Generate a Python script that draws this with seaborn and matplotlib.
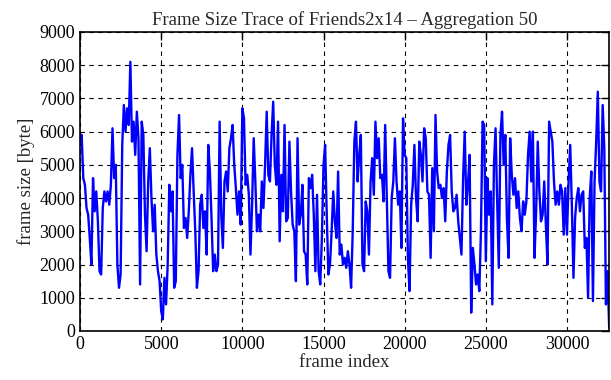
import matplotlib
matplotlib.use("Agg")
import matplotlib.pyplot as plt
import numpy as np
import pandas as pd
import seaborn as sns

# frame sizes [byte], one value every 100 frames
seg_00000 = [5600, 5900, 4600, 4400, 3700, 3500, 2800, 2000, 4600, 3600, 4200, 3300, 1800, 1700,
             3700, 4200, 3900, 4200, 3800, 4400, 6100, 4600, 5000, 2000, 1300, 1700, 5600, 6800]
seg_02800 = [6000, 6700, 6200, 8100, 5700, 6300, 5300, 6600, 5800, 1400, 6300, 5900, 3500, 2400,
             4500, 5500, 4000, 3000, 3800, 2300, 1800, 1500, 600, 350, 1600, 800, 2000]
seg_05500 = [4400, 3600, 4200, 1300, 1500, 5300, 6500, 4600, 5000, 3100, 3400, 2800, 3600, 4700,
             5500, 4200, 3000, 1300, 1800, 3800, 4100, 3100, 3600, 2300, 5600, 4800, 3400]
seg_08200 = [1800, 2300, 1800, 2000, 6300, 3500, 2500, 4500, 4800, 4200, 5500, 5800, 6200, 5000,
             4300, 3500, 4200, 3200, 6700, 6400, 4400, 4700, 4100, 2300, 3800, 5800, 4500]
seg_10900 = [3000, 3500, 3000, 4500, 3700, 5000, 6600, 4700, 4500, 5900, 6900, 5000, 4400, 6300,
             2700, 4700, 3600, 6200, 3300, 3400, 5700, 4200, 3200, 3000, 1500, 5800, 3200]
seg_13600 = [3500, 4400, 2400, 2300, 1400, 4600, 4300, 4700, 3500, 1800, 4100, 1800, 1400, 2800,
             5000, 5600, 3500, 1700, 2000, 3000, 4200, 3300, 2800, 4800, 2300, 2600, 2000]
seg_16300 = [2200, 1900, 2400, 2000, 1300, 3000, 5700, 6300, 4500, 5300, 5900, 2000, 1800, 3900,
             3600, 2300, 4500, 5200, 4100, 6300, 5200, 5800, 4600, 4700, 3900, 6200, 4000, 1800]
seg_19100 = [1600, 4000, 4500, 5800, 4500, 3800, 4200, 2500, 6400, 5300, 5200, 2200, 1200, 3800,
             4400, 5600, 4000, 3300, 5700, 5300, 4500, 6100, 5800, 4200, 4100, 2200, 4900]
seg_21800 = [3000, 6500, 4800, 4300, 4400, 4000, 4300, 3300, 4800, 5600, 5900, 4200, 3600, 3700,
             4100, 3300, 2800, 2300, 4600, 6000, 3800, 4400, 5300, 550, 2500, 2000, 1400]
seg_24500 = [1700, 1200, 3000, 6300, 6200, 2100, 4600, 3500, 4200, 800, 5000, 6100, 3900, 1900,
             5900, 6600, 5000, 5900, 3400, 2200, 5800, 4700, 4100, 4600, 3700, 4200, 3400]
seg_27200 = [3000, 3900, 3500, 3900, 5300, 6000, 4500, 6000, 2200, 3600, 5700, 4200, 3300, 3500,
             4500, 3200, 2000, 6300, 6000, 5700, 4500, 3800, 4200, 3800, 4400, 4200, 2900]
seg_29900 = [4300, 2900, 4500, 5600, 3800, 1600, 3400, 4000, 4300, 3600, 4100, 4200, 2500, 2800,
             1000, 4000, 4800, 900, 4500, 5700, 7200, 4500, 4200, 6800, 5500, 800, 1800, 100]

FRAME_STEP = 100
x_ticks = [0, 5000, 10000, 15000, 20000, 25000, 30000]
y_ticks = [0, 1000, 2000, 3000, 4000, 5000, 6000, 7000, 8000, 9000]

sizes = (seg_00000 + seg_02800 + seg_05500 + seg_08200 + seg_10900 + seg_13600
         + seg_16300 + seg_19100 + seg_21800 + seg_24500 + seg_27200 + seg_29900)
df = pd.DataFrame({"frame": np.arange(len(sizes)) * FRAME_STEP, "size": sizes})

sns.set_style("white")
plt.rcParams["font.family"] = ["Liberation Serif", "DejaVu Serif"]

fig = plt.figure(figsize=(6.11, 3.8), dpi=100)
ax = fig.add_axes([0.131, 0.129, 0.866, 0.787])

sns.lineplot(data=df, x="frame", y="size", color="#0000ff", linewidth=1.7, ax=ax)

ax.set_xlim(0, 32600)
ax.set_ylim(0, 9000)
ax.set_xticks(x_ticks)
ax.set_yticks(y_ticks)
ax.grid(True, color="black", linestyle=(0, (4, 4)), linewidth=0.8)
ax.tick_params(direction="in", top=True, right=True, length=6, width=1,
               labelsize=13, colors="black")
for s in ax.spines.values():
    s.set_color("black")
    s.set_linewidth(1.2)

ax.set_title("Frame Size Trace of Friends2x14 \u2013 Aggregation 50", fontsize=13.5, pad=5)
ax.set_xlabel("frame index", fontsize=13.5, labelpad=1)
ax.set_ylabel("frame size [byte]", fontsize=13.5, labelpad=3)

fig.savefig("out.png", dpi=100)
